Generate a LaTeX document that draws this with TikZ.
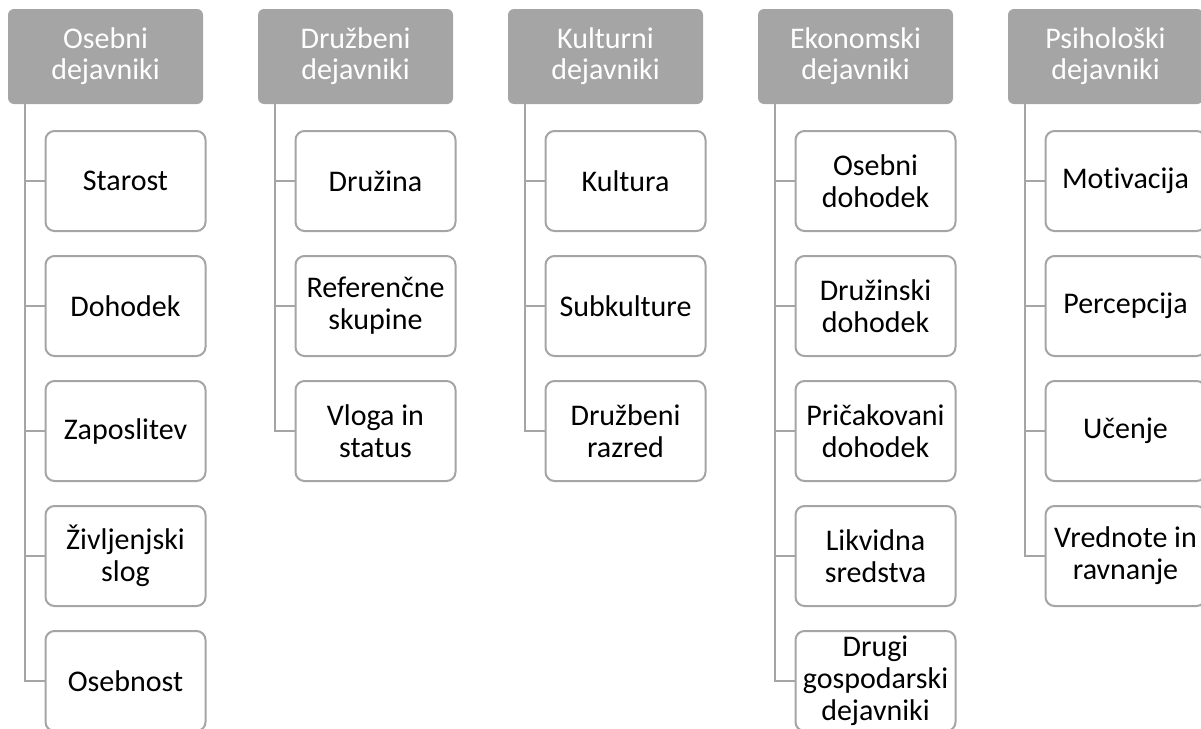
\documentclass[tikz,border=0pt]{standalone}
\usepackage{fontspec}
\setmainfont{Carlito}[Ligatures=NoCommon]
\definecolor{hdrgray}{HTML}{A5A5A5}
\definecolor{linegray}{HTML}{A5A5A5}
\begin{document}
\begin{tikzpicture}[x=1pt,y=-1pt,
  header/.style={draw=none, fill=hdrgray, rounded corners=6pt, text=white,
    minimum width=195pt, minimum height=95pt, align=center, inner sep=0pt,
    font=\fontsize{30}{31}\selectfont},
  item/.style={draw=linegray, line width=2pt, fill=white, rounded corners=9pt,
    minimum width=160pt, minimum height=100pt, align=center, inner sep=0pt,
    font=\fontsize{30}{32}\selectfont},
  link/.style={draw=linegray, line width=2.2pt}]
\useasboundingbox (0,0) rectangle (1201,728);

% category headers
\node[header] (h1) at (105.5,56.5) {Osebni\\dejavniki};
\node[header] (h2) at (355.5,56.5) {Družbeni\\dejavniki};
\node[header] (h3) at (605.5,56.5) {Kulturni\\dejavniki};
\node[header] (h4) at (855.5,56.5) {Ekonomski\\dejavniki};
\node[header] (h5) at (1105.5,56.5) {Psihološki\\dejavniki};

% personal factors
\node[item] (a1) at (125.5,181) {Starost};
\node[item] (a2) at (125.5,306) {Dohodek};
\node[item] (a3) at (125.5,431) {Zaposlitev};
\node[item] (a4) at (125.5,556) {Življenjski\\slog};
\node[item] (a5) at (125.5,681) {Osebnost};

% social factors
\node[item] (b1) at (375.5,181) {Družina};
\node[item] (b2) at (375.5,306) {Referenčne\\skupine};
\node[item] (b3) at (375.5,431) {Vloga in\\status};

% cultural factors
\node[item] (c1) at (625.5,181) {Kultura};
\node[item] (c2) at (625.5,306) {Subkulture};
\node[item] (c3) at (625.5,431) {Družbeni\\razred};

% economic factors
\node[item] (d1) at (875.5,181) {Osebni\\dohodek};
\node[item] (d2) at (875.5,306) {Družinski\\dohodek};
\node[item] (d3) at (875.5,431) {Pričakovani\\dohodek};
\node[item] (d4) at (875.5,556) {Likvidna\\sredstva};
\node[item] (d5) at (875.5,681) {Drugi\\gospodarski\\dejavniki};

% psychological factors
\node[item] (e1) at (1125.5,181) {Motivacija};
\node[item] (e2) at (1125.5,306) {Percepcija};
\node[item] (e3) at (1125.5,431) {Učenje};
\node[item] (e4) at (1125.5,556) {Vrednote in\\ravnanje};

% connectors from each header down its column
\foreach \h/\list in {h1/{a1,a2,a3,a4,a5}, h2/{b1,b2,b3}, h3/{c1,c2,c3},
                      h4/{d1,d2,d3,d4,d5}, h5/{e1,e2,e3,e4}}{
  \foreach \c in \list {
    \draw[link] ([xshift=17.5pt]\h.south west) |- (\c.west);
  }
}
\end{tikzpicture}
\end{document}
